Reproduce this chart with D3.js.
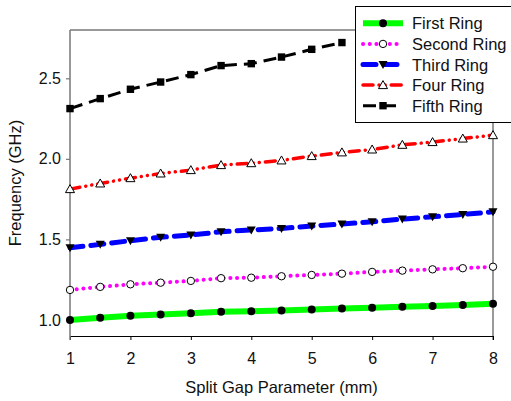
<!DOCTYPE html>
<html><head><meta charset="utf-8">
<script src="https://cdn.jsdelivr.net/npm/d3@7"></script>
<style>body{margin:0;background:#fff}svg{display:block}text{font-family:"Liberation Sans",Arial,sans-serif}</style>
</head><body><svg id="c" width="511" height="401"></svg>
<script>
const xValues = [1,1.5,2,2.5,3,3.5,4,4.5,5,5.5,6,6.5,7,7.5,8];
const firstRing  = [1.000,1.014,1.025,1.033,1.042,1.050,1.054,1.058,1.064,1.070,1.076,1.082,1.087,1.093,1.101];
const secondRing = [1.186,1.205,1.221,1.231,1.242,1.259,1.262,1.271,1.279,1.287,1.298,1.306,1.314,1.321,1.330];
const thirdRing  = [1.448,1.469,1.492,1.513,1.527,1.547,1.558,1.568,1.583,1.595,1.609,1.626,1.640,1.655,1.671];
const fourRing   = [1.812,1.847,1.880,1.909,1.930,1.961,1.973,1.990,2.017,2.040,2.058,2.087,2.104,2.126,2.147];
const fifthRing  = [2.312,2.374,2.432,2.477,2.523,2.579,2.591,2.632,2.680,2.722];
const seriesNames = ["First Ring","Second Ring","Third Ring","Four Ring","Fifth Ring"];
const xTicks = [1,2,3,4,5,6,7,8];
const yTicks = [1.0,1.5,2.0,2.5];

const svg = d3.select("#c");
const L=70, R=493, T=30, B=336;
const x = d3.scaleLinear().domain([1,8]).range([L,R]);
const y = d3.scaleLinear().domain([0.9,2.8]).range([B,T]);

const styles = [
  {color:"#00ff00", width:6, dash:null, cap:"butt", marker:"circleFilled"},
  {color:"#ff00ff", width:4, dash:"0.1,6.6", cap:"round", marker:"circleOpen"},
  {color:"#0000ff", width:5, dash:"13,8", cap:"round", marker:"triDown"},
  {color:"#ff0000", width:3.5, dash:"10,6,0.1,6,0.1,6", cap:"round", marker:"triUpOpen"},
  {color:"#000000", width:3, dash:"13,7", cap:"butt", marker:"square"}
];
const allData = [firstRing,secondRing,thirdRing,fourRing,fifthRing];

// frame
svg.append("line").attr("x1",L).attr("x2",R).attr("y1",T).attr("y2",T).attr("stroke","#777").attr("stroke-width",1.5);
svg.append("line").attr("x1",R).attr("x2",R).attr("y1",T).attr("y2",B+4).attr("stroke","#777").attr("stroke-width",1.5);

// axes
const xa = svg.append("g").attr("transform",`translate(0,${B})`)
  .call(d3.axisBottom(x).tickValues(xTicks).tickSize(4).tickSizeOuter(0).tickFormat(d3.format("d")));
xa.select(".domain").attr("stroke","#000").attr("stroke-width",1.2);
xa.selectAll(".tick line").attr("stroke","#000").attr("stroke-width",1);
xa.selectAll(".tick text").attr("font-size","16px").attr("fill","#111").attr("y",7).attr("dy","20.5px").style("font-family","Liberation Sans, Arial");

const ya = svg.append("g").attr("transform",`translate(${L},0)`)
  .call(d3.axisLeft(y).tickValues(yTicks).tickSize(4).tickSizeOuter(0).tickFormat(d3.format(".1f")));
ya.select(".domain").attr("stroke","#777").attr("stroke-width",1.5).attr("d",`M0,${T}V${B+4}`);
ya.selectAll(".tick line").attr("stroke","#777").attr("stroke-width",1.2);
ya.selectAll(".tick text").attr("font-size","16px").attr("fill","#111").attr("x",-9).style("font-family","Liberation Sans, Arial");

svg.append("text").attr("x",(L+R)/2).attr("y",393).attr("text-anchor","middle")
  .attr("font-size","16.5px").attr("fill","#111").text("Split Gap Parameter (mm)");
svg.append("text").attr("transform",`translate(21,${(T+B)/2}) rotate(-90)`).attr("text-anchor","middle")
  .attr("font-size","16.5px").attr("fill","#111").text("Frequency (GHz)");

function drawMarker(g, type, cx, cy){
  if(type==="circleFilled") g.append("circle").attr("cx",cx).attr("cy",cy).attr("r",4).attr("fill","#000");
  else if(type==="circleOpen") g.append("circle").attr("cx",cx).attr("cy",cy).attr("r",3.7).attr("fill","#fff").attr("stroke","#000").attr("stroke-width",1);
  else if(type==="triDown") g.append("path").attr("d",`M${cx-4.5},${cy-3.5}L${cx+4.5},${cy-3.5}L${cx},${cy+4.5}Z`).attr("fill","#000");
  else if(type==="triUpOpen") g.append("path").attr("d",`M${cx-4.5},${cy+3.5}L${cx+4.5},${cy+3.5}L${cx},${cy-4.5}Z`).attr("fill","#fff").attr("stroke","#000").attr("stroke-width",1);
  else if(type==="square") g.append("rect").attr("x",cx-3.7).attr("y",cy-3.7).attr("width",7.4).attr("height",7.4).attr("fill","#000");
}

const line = d3.line().x(d=>x(d[0])).y(d=>y(d[1]));
allData.forEach((vals,i)=>{
  const st = styles[i];
  const pts = vals.map((v,j)=>[xValues[j],v]);
  const g = svg.append("g");
  g.append("path").attr("d",line(pts)).attr("fill","none").attr("stroke",st.color)
   .attr("stroke-width",st.width).attr("stroke-dasharray",st.dash).attr("stroke-linecap",st.cap);
  pts.forEach(p=>drawMarker(g, st.marker, x(p[0]), y(p[1])));
});

// legend
const lg = svg.append("g");
lg.append("rect").attr("x",355.5).attr("y",6.5).attr("width",170).attr("height",116).attr("fill","#fff").attr("stroke","#000").attr("stroke-width",1);
seriesNames.forEach((name,i)=>{
  const st = styles[i];
  const cy = 23.3 + i*20.6;
  lg.append("line").attr("x1",363).attr("x2",403).attr("y1",cy).attr("y2",cy).attr("stroke",st.color)
    .attr("stroke-width",st.width).attr("stroke-dasharray",st.dash).attr("stroke-linecap",st.cap);
  drawMarker(lg, st.marker, 383, cy);
  lg.append("text").attr("x",412).attr("y",cy+6).attr("font-size","16.5px").attr("fill","#111").text(name);
});
</script></body></html>
